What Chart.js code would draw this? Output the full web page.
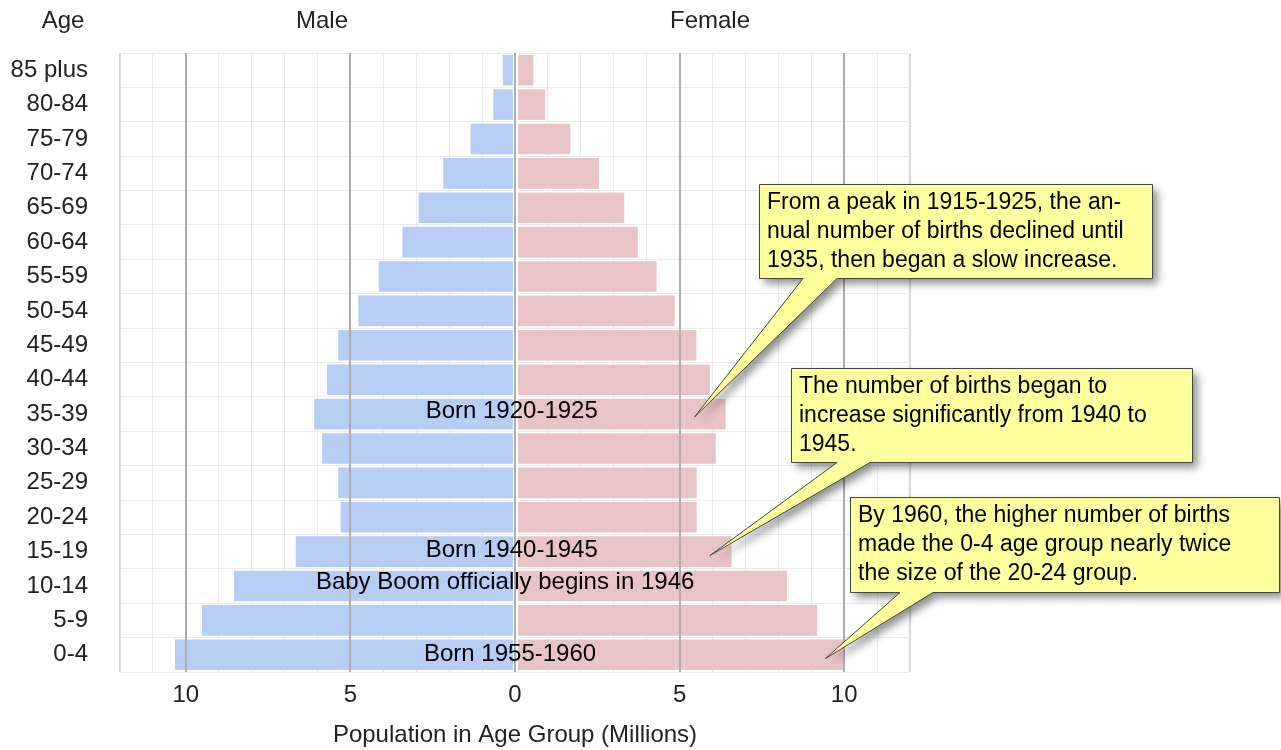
<!DOCTYPE html>
<html>
<head>
<meta charset="utf-8">
<title>Population pyramid</title>
<script src="https://cdn.jsdelivr.net/npm/chart.js@4.4.1/dist/chart.umd.min.js"></script>
<style>
  html, body { margin: 0; padding: 0; background: #fff; }
  #wrap { width: 1281px; height: 750px; }
</style>
</head>
<body>
<div id="wrap"><canvas id="pyramid" width="1281" height="750"></canvas></div>
<script>
// Age groups, top to bottom
const ageGroups = ["85 plus", "80-84", "75-79", "70-74", "65-69", "60-64", "55-59", "50-54", "45-49",
    "40-44", "35-39", "30-34", "25-29", "20-24", "15-19", "10-14", "5-9", "0-4"];

// Population in millions
const maleMillions = [0.37, 0.66, 1.35, 2.18, 2.93, 3.42, 4.14, 4.76, 5.37,
    5.71, 6.10, 5.86, 5.37, 5.30, 6.66, 8.54, 9.51, 10.33];
const femaleMillions = [0.56, 0.91, 1.68, 2.55, 3.32, 3.73, 4.30, 4.85, 5.51,
    5.92, 6.40, 6.10, 5.52, 5.52, 6.58, 8.26, 9.18, 9.98];

// Labelled ticks on the x axis (male side is negative)
const majorTicks = [-10, -5, 0, 5, 10];

const FONT = "'Liberation Sans', Arial, sans-serif";

// Text drawn inside the bars
const barNotes = [
    { text: "Born 1920-1925", group: "35-39", x: -0.1, dy: -3 },
    { text: "Born 1940-1945", group: "15-19", x: -0.1, dy: -1 },
    { text: "Baby Boom officially begins in 1946", group: "10-14", x: -0.3, dy: -4 },
    { text: "Born 1955-1960", group: "0-4", x: -0.15, dy: 0 },
];

// Yellow callouts, tip points at a bar
const callouts = [
    { box: [759, 184, 1153, 278], base: [803, 837], tip: { value: 5.45, group: "35-39", dy: 3 },
      lines: ["From a peak in 1915-1925, the an-", "nual number of births declined until", "1935, then began a slow increase."] },
    { box: [791, 368, 1193, 462], base: [837, 870], tip: { value: 5.92, group: "15-19", dy: 4 },
      lines: ["The number of births began to", "increase significantly from 1940 to", "1945."] },
    { box: [850, 497, 1280, 592], base: [900, 933], tip: { value: 9.42, group: "0-4", dy: 4 },
      lines: ["By 1960, the higher number of births", "made the 0-4 age group nearly twice", "the size of the 20-24 group."] },
];

function drawCallout(ctx, c, tipX, tipY) {
    const [l, t, r, b] = c.box;
    ctx.save();
    ctx.beginPath();
    ctx.moveTo(l + 0.5, t + 0.5);
    ctx.lineTo(r - 0.5, t + 0.5);
    ctx.lineTo(r - 0.5, b + 0.5);
    ctx.lineTo(c.base[1], b + 0.5);
    ctx.lineTo(tipX, tipY);
    ctx.lineTo(c.base[0], b + 0.5);
    ctx.lineTo(l + 0.5, b + 0.5);
    ctx.closePath();
    ctx.shadowColor = "rgba(0,0,0,0.45)";
    ctx.shadowBlur = 9;
    ctx.shadowOffsetX = 5;
    ctx.shadowOffsetY = 5;
    ctx.fillStyle = "#ffff9e";
    ctx.fill();
    ctx.shadowColor = "transparent";
    ctx.strokeStyle = "#454545";
    ctx.lineWidth = 1;
    ctx.stroke();

    ctx.fillStyle = "#000";
    ctx.font = "23px " + FONT;
    ctx.textAlign = "left";
    ctx.textBaseline = "alphabetic";
    c.lines.forEach((line, i) => ctx.fillText(line, l + 8, t + 25 + i * 29));
    ctx.restore();
}

const annotations = {
    id: "annotations",
    afterDatasetsDraw(chart) {
        // white gap at zero between the two sides
        const ctx = chart.ctx;
        const xs = chart.scales.x;
        const area = chart.chartArea;
        const x0 = xs.getPixelForValue(0);
        ctx.save();
        ctx.fillStyle = "#fff";
        ctx.fillRect(x0 - 2, area.top, 5, area.bottom - area.top);
        ctx.restore();
    },
    afterDraw(chart) {
        const ctx = chart.ctx;
        const xs = chart.scales.x;
        const ys = chart.scales.y;

        // major grid lines on top of the bars
        ctx.save();
        ctx.strokeStyle = "#adadad";
        ctx.lineWidth = 2;
        majorTicks.forEach(v => {
            const px = Math.round(xs.getPixelForValue(v));
            ctx.beginPath();
            ctx.moveTo(px, chart.chartArea.top);
            ctx.lineTo(px, chart.chartArea.bottom);
            ctx.stroke();
        });
        ctx.restore();

        // column headers
        ctx.save();
        ctx.fillStyle = "#222";
        ctx.font = "24px " + FONT;
        ctx.textAlign = "center";
        ctx.textBaseline = "middle";
        ctx.fillText("Age", 63, 21);
        ctx.fillText("Male", 322, 21);
        ctx.fillText("Female", 710, 21);

        // notes inside the bars
        ctx.fillStyle = "#000";
        barNotes.forEach(n => {
            const y = ys.getPixelForValue(ageGroups.indexOf(n.group)) + n.dy;
            ctx.fillText(n.text, xs.getPixelForValue(n.x), y);
        });
        ctx.restore();

        callouts.forEach(c => {
            const tx = xs.getPixelForValue(c.tip.value);
            const ty = ys.getPixelForValue(ageGroups.indexOf(c.tip.group)) + c.tip.dy;
            drawCallout(ctx, c, tx, ty);
        });
    }
};

new Chart(document.getElementById("pyramid"), {
    type: "bar",
    data: {
        labels: ageGroups,
        datasets: [{
            label: "Male",
            data: maleMillions.map(v => -v),
            backgroundColor: "#b6cdf4",
            borderWidth: 0,
            barPercentage: 0.89,
            categoryPercentage: 1,
        }, {
            label: "Female",
            data: femaleMillions,
            backgroundColor: "#e9c4c6",
            borderWidth: 0,
            barPercentage: 0.89,
            categoryPercentage: 1,
        }],
    },
    options: {
        indexAxis: "y",
        responsive: false,
        animation: false,
        devicePixelRatio: 1,
        layout: { padding: { top: 53, right: 371, left: 0, bottom: 0 } },
        plugins: {
            legend: { display: false },
            tooltip: { enabled: false },
        },
        scales: {
            x: {
                stacked: true,
                min: -12,
                max: 12,
                z: 1,
                afterFit(scale) { scale.height = 78; },
                grid: {
                    drawTicks: false,
                    color: ctx => (Math.abs(ctx.tick.value) === 12 ? "#d6d6d6" : "rgba(222,222,222,0.6)"),
                    lineWidth: ctx => (Math.abs(ctx.tick.value) === 12 ? 2 : 1),
                },
                border: { display: false },
                ticks: {
                    stepSize: 1,
                    autoSkip: false,
                    maxRotation: 0,
                    padding: 9,
                    color: "#222",
                    font: { family: FONT, size: 24 },
                    callback: value => (majorTicks.includes(value) ? String(Math.abs(value)) : ""),
                },
                title: {
                    display: true,
                    text: "Population in Age Group (Millions)",
                    color: "#222",
                    font: { family: FONT, size: 24 },
                    padding: { top: 0, bottom: 0 },
                },
            },
            y: {
                stacked: true,
                afterFit(scale) { scale.width = 120; },
                grid: {
                    drawTicks: false,
                    color: "#ececec",
                },
                border: { display: true, color: "#dedede" },
                ticks: {
                    padding: 32,
                    color: "#222",
                    font: { family: FONT, size: 24 },
                },
            },
        },
    },
    plugins: [annotations],
});
</script>
</body>
</html>
